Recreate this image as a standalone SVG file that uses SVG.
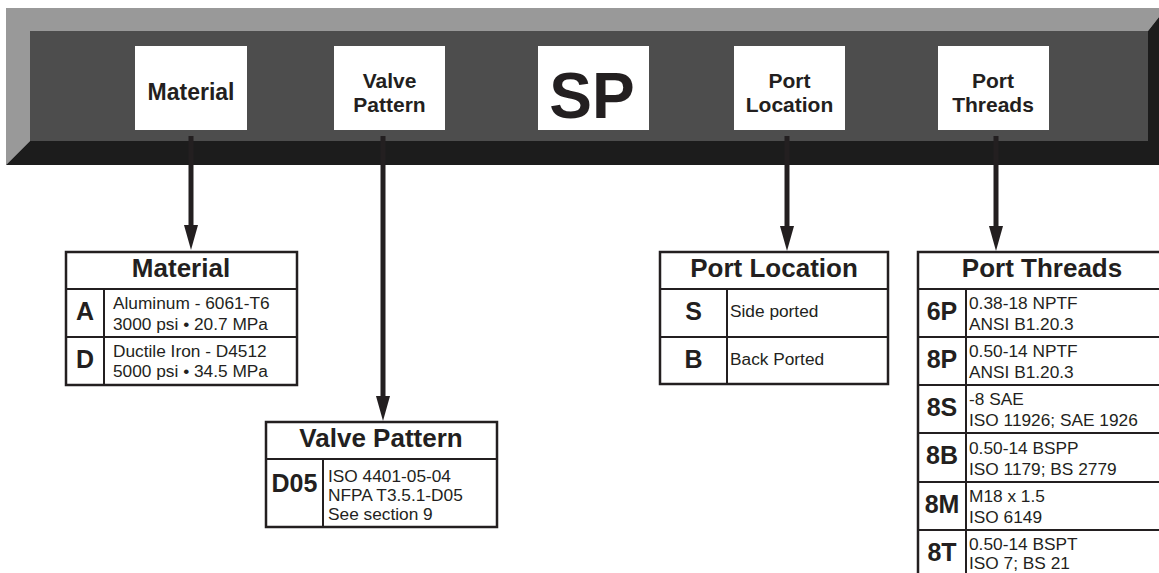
<svg xmlns="http://www.w3.org/2000/svg" width="1159" height="573" viewBox="0 0 1159 573">
<defs>
<style>
.box{fill:#fff}
.t{font-family:"Liberation Sans",Arial,Helvetica,sans-serif;fill:#231f20}
.hb{font-weight:bold;font-size:23px;text-anchor:middle}
.hb2{font-weight:bold;font-size:21px;text-anchor:middle}
.sp{font-weight:bold;font-size:64px;text-anchor:middle}
.title{font-weight:bold;font-size:26px;text-anchor:middle}
.code{font-weight:bold;font-size:25px;text-anchor:middle}
.body{font-size:17.3px}
.tbl{fill:#fff;stroke:#231f20;stroke-width:2.5}
.ln{stroke:#231f20;stroke-width:2;fill:none}
.conn{stroke:#231f20;stroke-width:5;fill:none}
</style>
<marker id="ah" viewBox="0 0 25 14" refX="10" refY="7" markerWidth="25" markerHeight="14" markerUnits="userSpaceOnUse" orient="auto">
<path d="M0,0 L25,7 L0,14 Z" fill="#231f20"/>
</marker>
</defs>
<rect width="1159" height="573" fill="#fff"/>

<g id="bar">
<path d="M6,8 H1159 V17 L1148,31 H30 V141 L6,165 Z" fill="#999999"/>
<path d="M6,165 L30,141 H1148 V31 L1159,17 V165 Z" fill="#1c1c1c"/>
<rect x="30" y="31" width="1118" height="110" fill="#4d4d4d"/>
</g>

<g id="hdr-material">
<rect class="box" x="135" y="46" width="112" height="84"/>
<text class="t hb" x="191" y="100">Material</text>
</g>
<g id="hdr-valve">
<rect class="box" x="334" y="46" width="111" height="84"/>
<text class="t hb2" x="389.5" y="88">Valve</text>
<text class="t hb2" x="389.5" y="112">Pattern</text>
</g>
<g id="hdr-sp">
<rect class="box" x="538" y="46" width="111" height="84"/>
<text class="t sp" x="592" y="118">SP</text>
</g>
<g id="hdr-portloc">
<rect class="box" x="734" y="46" width="111" height="84"/>
<text class="t hb2" x="789.5" y="88">Port</text>
<text class="t hb2" x="789.5" y="112">Location</text>
</g>
<g id="hdr-threads">
<rect class="box" x="938" y="46" width="111" height="84"/>
<text class="t hb2" x="993" y="88">Port</text>
<text class="t hb2" x="993" y="112">Threads</text>
</g>

<g id="connectors">
<path class="conn" d="M191,136 V235" marker-end="url(#ah)"/>
<path class="conn" d="M383,136 V406" marker-end="url(#ah)"/>
<path class="conn" d="M787,136 V236" marker-end="url(#ah)"/>
<path class="conn" d="M996,136 V236" marker-end="url(#ah)"/>
</g>

<g id="tbl-material">
<rect class="tbl" x="66" y="252" width="231" height="133"/>
<path class="ln" d="M66,289 H297 M66,337 H297 M104,289 V385"/>
<text class="t title" x="181" y="277">Material</text>
<text class="t code" x="85" y="320">A</text>
<text class="t code" x="85" y="368">D</text>
<text class="t body" x="113" y="309">Aluminum - 6061-T6</text>
<text class="t body" x="113" y="330">3000 psi • 20.7 MPa</text>
<text class="t body" x="113" y="357">Ductile Iron - D4512</text>
<text class="t body" x="113" y="377">5000 psi • 34.5 MPa</text>
</g>

<g id="tbl-valve">
<rect class="tbl" x="266" y="422" width="231" height="105"/>
<path class="ln" d="M266,459 H497 M323,459 V527"/>
<text class="t title" x="381" y="447">Valve Pattern</text>
<text class="t code" x="294.5" y="492">D05</text>
<text class="t body" x="328" y="482">ISO 4401-05-04</text>
<text class="t body" x="328" y="501">NFPA T3.5.1-D05</text>
<text class="t body" x="328" y="520">See section 9</text>
</g>

<g id="tbl-portloc">
<rect class="tbl" x="660" y="252" width="228" height="132"/>
<path class="ln" d="M660,289 H888 M660,337 H888 M727,289 V384"/>
<text class="t title" x="774" y="277">Port Location</text>
<text class="t code" x="693.5" y="320">S</text>
<text class="t code" x="693.5" y="368">B</text>
<text class="t body" x="730" y="317">Side ported</text>
<text class="t body" x="730" y="365">Back Ported</text>
</g>

<g id="tbl-threads">
<rect class="tbl" x="918" y="252" width="250" height="330"/>
<path class="ln" d="M918,289 H1168 M918,337 H1168 M918,385 H1168 M918,433 H1168 M918,482 H1168 M918,530 H1168 M966,289 V582"/>
<text class="t title" x="1042" y="277">Port Threads</text>
<text class="t code" x="942" y="320">6P</text>
<text class="t code" x="942" y="368">8P</text>
<text class="t code" x="942" y="416">8S</text>
<text class="t code" x="942" y="464">8B</text>
<text class="t code" x="942" y="513">8M</text>
<text class="t code" x="942" y="561">8T</text>
<text class="t body" x="969" y="309">0.38-18 NPTF</text>
<text class="t body" x="969" y="330">ANSI B1.20.3</text>
<text class="t body" x="969" y="357">0.50-14 NPTF</text>
<text class="t body" x="969" y="378">ANSI B1.20.3</text>
<text class="t body" x="969" y="405">-8 SAE</text>
<text class="t body" x="969" y="426">ISO 11926; SAE 1926</text>
<text class="t body" x="969" y="454">0.50-14 BSPP</text>
<text class="t body" x="969" y="475">ISO 1179; BS 2779</text>
<text class="t body" x="969" y="502">M18 x 1.5</text>
<text class="t body" x="969" y="523">ISO 6149</text>
<text class="t body" x="969" y="550">0.50-14 BSPT</text>
<text class="t body" x="969" y="569">ISO 7; BS 21</text>
</g>
</svg>
